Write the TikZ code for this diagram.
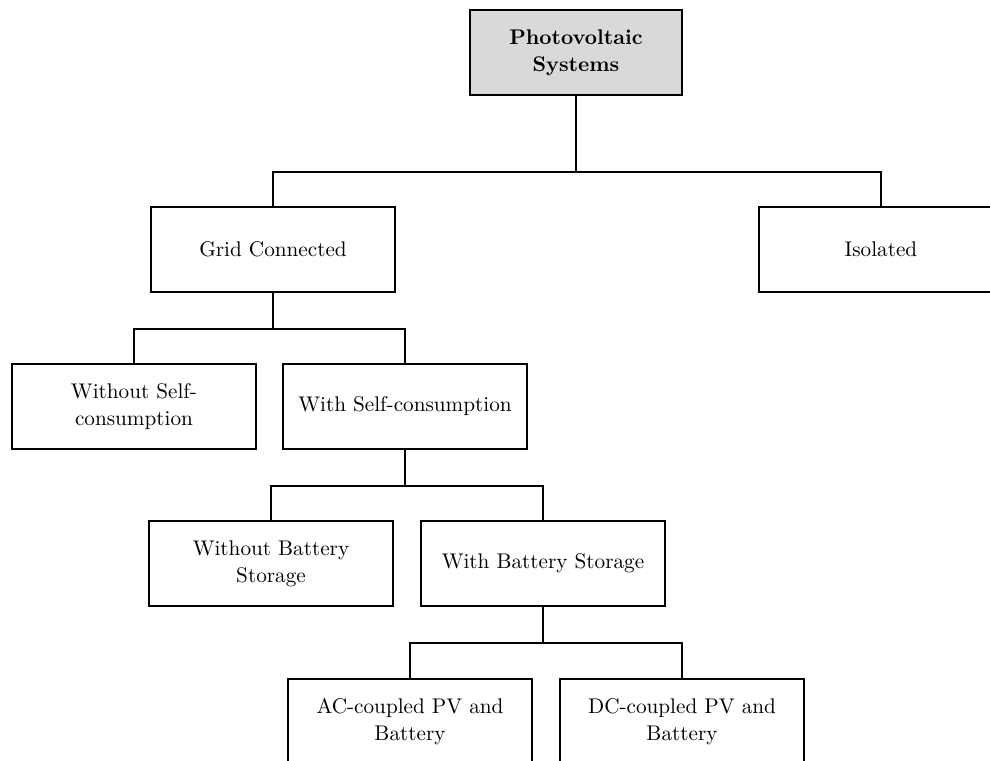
\documentclass[tikz,border=0pt]{standalone}
\usetikzlibrary{positioning}
\begin{document}
\begin{tikzpicture}[x=0.5pt,y=-0.5pt,
  box/.style={draw, line width=1pt, minimum width=122pt, minimum height=42.5pt,
    align=center, inner sep=0pt, font=\fontsize{10.6}{13.5}\selectfont},
  rootbox/.style={box, fill=black!15, minimum width=106pt, font=\fontsize{10.6}{13.5}\selectfont\bfseries},
  link/.style={line width=1pt}]
\clip (0,0) rectangle (990,760);
\fill[white] (0,0) rectangle (990,760);
% boxes
\node[rootbox] (pv)    at (576,52.5)  {Photovoltaic\\Systems};
\node[box] (grid)      at (273,249.5) {Grid Connected};
\node[box] (iso)       at (881,249.5) {Isolated};
\node[box] (noself)    at (134,406.5) {Without Self-\\consumption};
\node[box] (self)      at (405,406.5) {With Self-consumption};
\node[box] (nobat)     at (271,563.5) {Without Battery\\Storage};
\node[box] (bat)       at (543,563.5) {With Battery Storage};
\node[box] (ac)        at (410,721.5) {AC-coupled PV and\\Battery};
\node[box] (dc)        at (682,721.5) {DC-coupled PV and\\Battery};
% tree connectors
\draw[link] (pv.south) -- ++(0,76) -| (grid.north);
\draw[link] (pv.south) -- ++(0,76) -| (iso.north);
\draw[link] (grid.south) -- ++(0,36) -| (noself.north);
\draw[link] (grid.south) -- ++(0,36) -| (self.north);
\draw[link] (self.south) -- ++(0,36) -| (nobat.north);
\draw[link] (self.south) -- ++(0,36) -| (bat.north);
\draw[link] (bat.south) -- ++(0,36) -| (ac.north);
\draw[link] (bat.south) -- ++(0,36) -| (dc.north);
\end{tikzpicture}
\end{document}
